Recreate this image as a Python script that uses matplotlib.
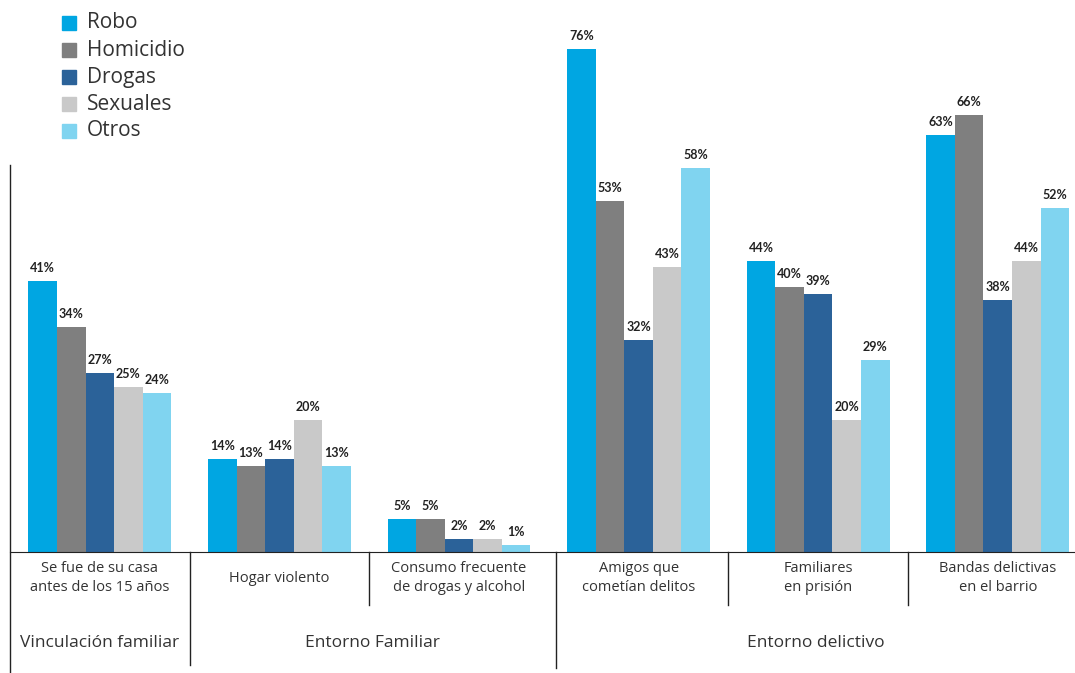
import matplotlib.pyplot as plt
from matplotlib.lines import Line2D
from matplotlib.patches import Rectangle
import numpy as np

plt.rcParams['font.family'] = ['Open Sans', 'DejaVu Sans']

series = ["Robo", "Homicidio", "Drogas", "Sexuales", "Otros"]
colors = ["#00A6E2", "#7F7F7F", "#2B6299", "#C9C9C9", "#80D4F0"]
categories = ["Se fue de su casa\nantes de los 15 años", "Hogar violento",
              "Consumo frecuente\nde drogas y alcohol", "Amigos que\ncometían delitos",
              "Familiares\nen prisión", "Bandas delictivas\nen el barrio"]
groups = ["Vinculación familiar", "Entorno Familiar", "Entorno delictivo"]

robo = [41, 14, 5, 76, 44, 63]
homicidio = [34, 13, 5, 53, 40, 66]
drogas = [27, 14, 2, 32, 39, 38]
sexuales = [25, 20, 2, 43, 20, 44]
otros = [24, 13, 1, 58, 29, 52]
values = [robo, homicidio, drogas, sexuales, otros]

W, H = 1075, 673
fig = plt.figure(figsize=(W / 100, H / 100), dpi=100)
base_y = 552
ax = fig.add_axes([10 / W, (H - base_y) / H, 1065 / W, base_y / H])

x = np.arange(len(categories))
bw = 0.159
for i, (name, vals, c) in enumerate(zip(series, values, colors)):
    xs = x + (i - 2) * bw
    ax.bar(xs, vals, width=bw, color=c, label=name, clip_on=False)
    for xi, v in zip(xs, vals):
        ax.annotate(f"{v}%", (xi, v), xytext=(0, 5), textcoords="offset points",
                    ha="center", va="bottom", fontsize=9, fontweight="bold",
                    family=["Lato", "DejaVu Sans"], color="#222222")

ax.set_xlim(-0.5, 5.43)
ax.set_ylim(0, base_y / 6.62)
for s in ["top", "right", "left"]:
    ax.spines[s].set_visible(False)
ax.spines["bottom"].set_color("#222222")
ax.set_xticks([])
ax.set_yticks([])

# axis line on the left, running down through the label area
fig.add_artist(Line2D([10 / W, 10 / W], [(H - 165) / H, (H - 672) / H],
                      color="#222222", lw=1))


def px_y(py):
    return (H - py) / H


def to_fig(xd):
    return fig.transFigure.inverted().transform(ax.transData.transform((xd, 0)))[0]


# separators below the baseline
for xd, bottom in [(0.5, 665), (1.5, 605), (2.54, 668), (3.5, 605), (4.5, 605)]:
    xf = to_fig(xd)
    fig.add_artist(Line2D([xf, xf], [px_y(base_y), px_y(bottom)], color="#222222", lw=1))

for xi, cat in zip(x, categories):
    fig.text(to_fig(xi), px_y(578), cat, ha="center", va="center",
             fontsize=10.5, color="#333333", linespacing=1.45)

group_x = [(to_fig(-0.5) + to_fig(0.5)) / 2,
           (to_fig(0.5) + to_fig(2.54)) / 2,
           (to_fig(2.54) + 1.0) / 2]
for gx, g in zip(group_x, groups):
    fig.text(gx, px_y(643), g, ha="center", va="center", fontsize=12.5, color="#333333")

# legend
for i, (name, c) in enumerate(zip(series, colors)):
    yc = 23 + i * 27
    fig.add_artist(Rectangle((62 / W, px_y(yc + 7)), 14 / W, 14 / H, color=c,
                             transform=fig.transFigure))
    fig.text(87 / W, px_y(yc), name, ha="left", va="center", fontsize=15,
             color="#333333")

fig.savefig("out.png", dpi=100)
